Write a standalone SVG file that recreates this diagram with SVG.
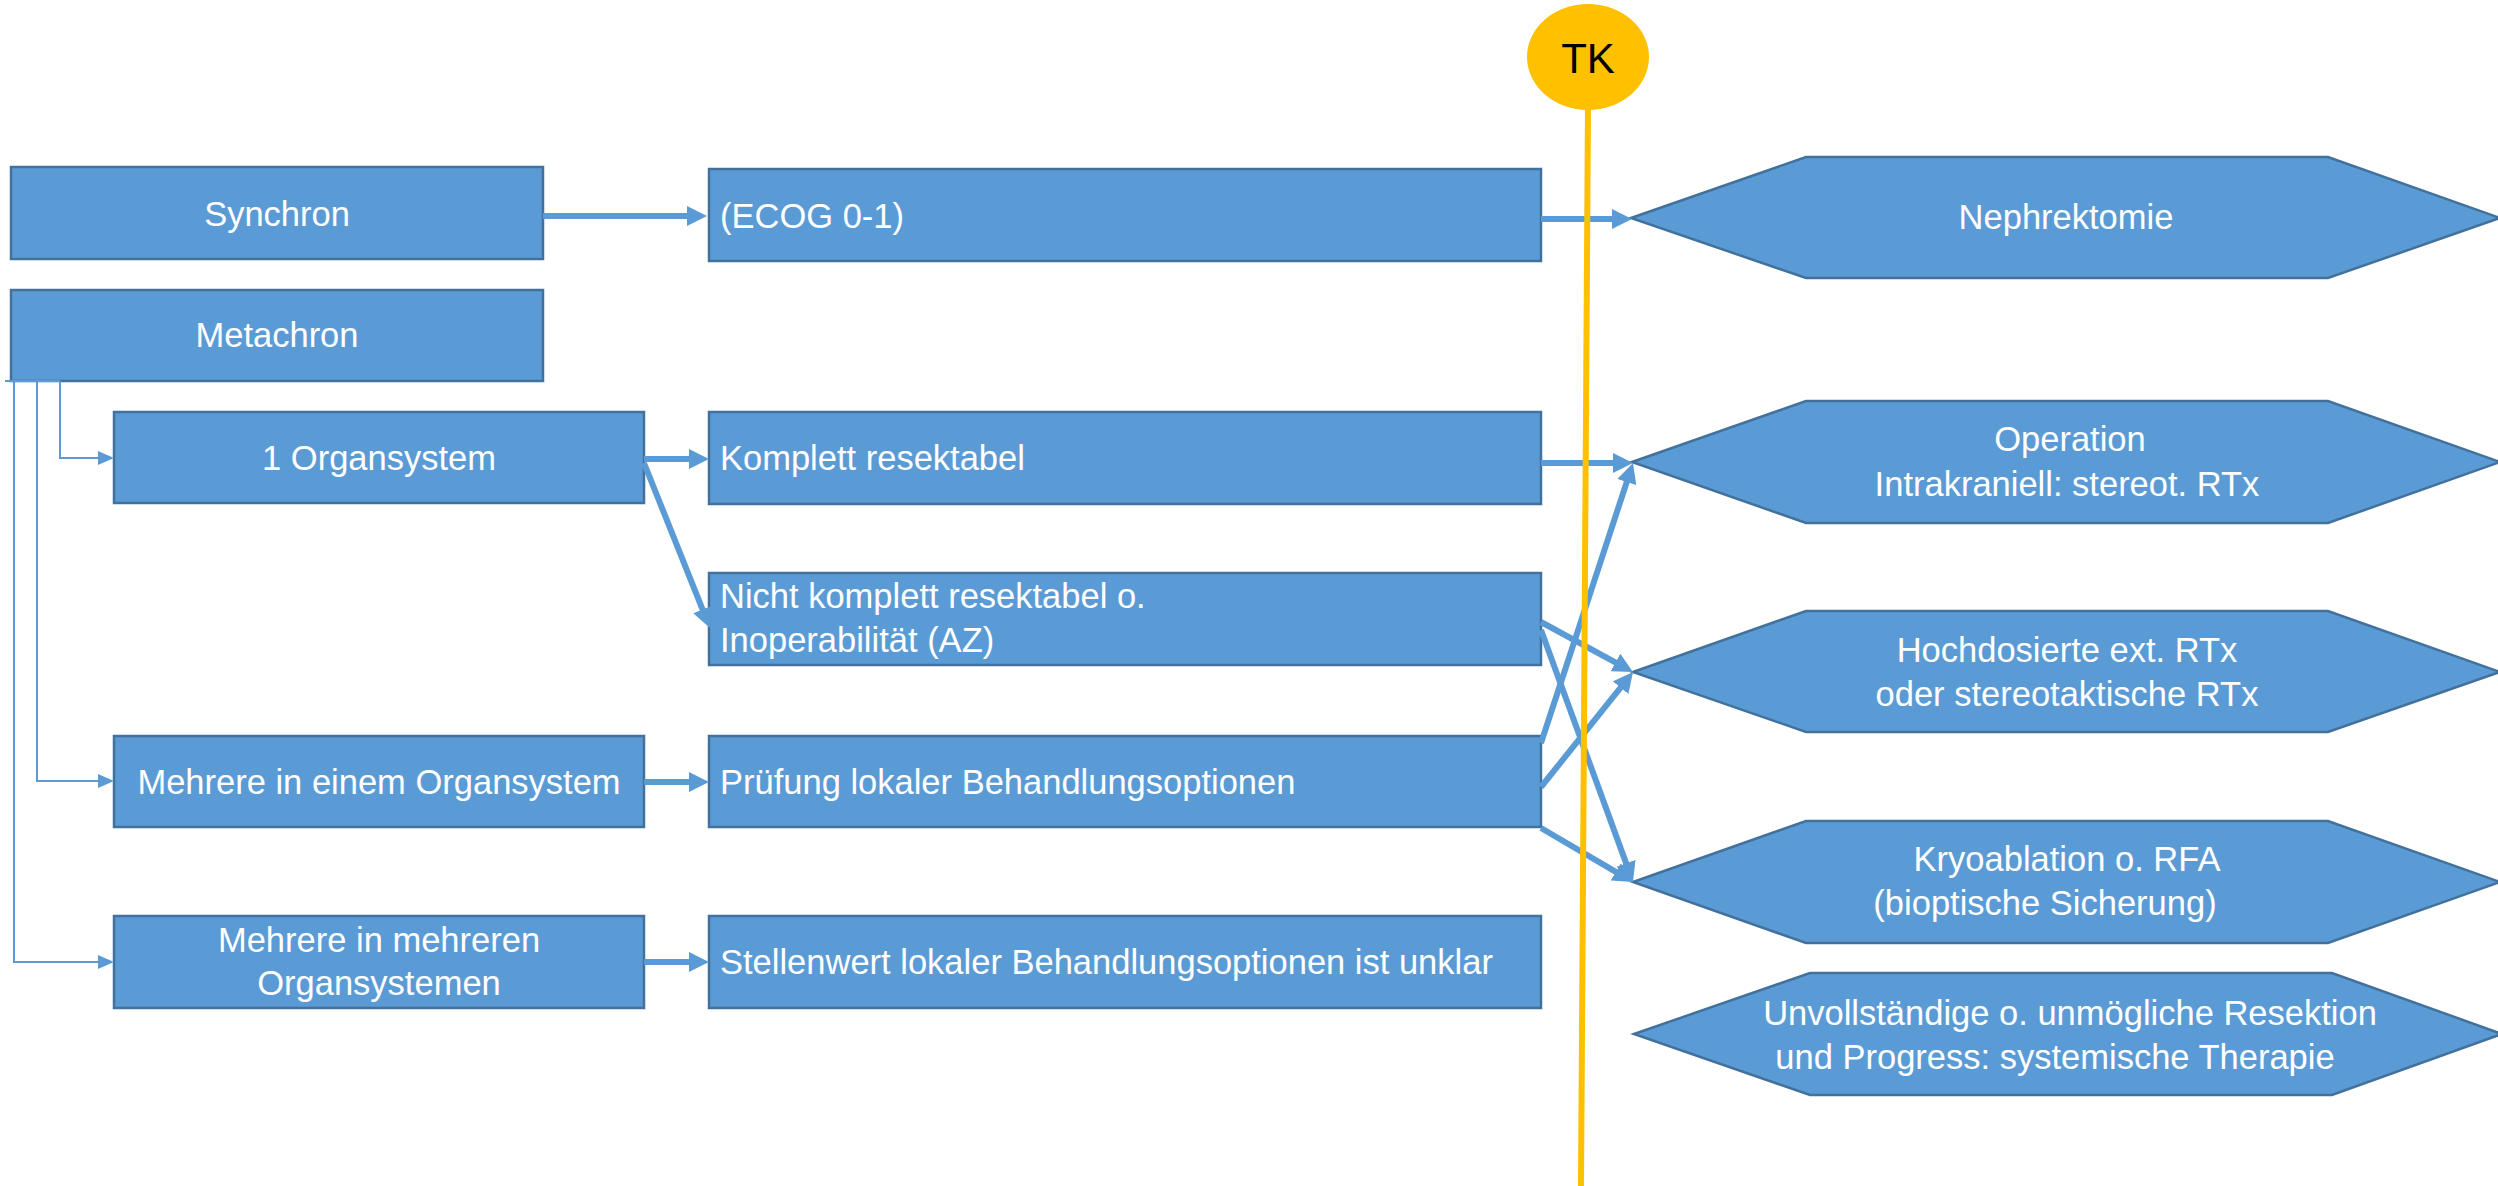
<svg xmlns="http://www.w3.org/2000/svg" width="2498" height="1186" viewBox="0 0 2498 1186">
<style>
.box{fill:#5B9BD5;stroke:#41719C;stroke-width:2.5}
.t{font-family:"Liberation Sans",Arial,sans-serif;font-size:34.5px;fill:#FFFFFF}
.c{text-anchor:middle}
.thick{fill:none;stroke:#5B9BD5;stroke-width:6;marker-end:url(#ah)}
.thin{fill:none;stroke:#5B9BD5;stroke-width:2}
.thinarrow{fill:none;stroke:#5B9BD5;stroke-width:2;marker-end:url(#ahs)}
</style>
<defs>
<marker id="ah" markerUnits="userSpaceOnUse" viewBox="0 0 20 20" markerWidth="20" markerHeight="20" refX="2" refY="10" orient="auto">
<path d="M0,0 L20,10 L0,20 z" fill="#5B9BD5"/>
</marker>
<marker id="ahs" markerUnits="userSpaceOnUse" viewBox="0 0 16 14" markerWidth="16" markerHeight="14" refX="2" refY="7" orient="auto">
<path d="M0,0 L16,7 L0,14 z" fill="#5B9BD5"/>
</marker>
</defs>
<rect width="2498" height="1186" fill="#FFFFFF"/>

<g id="synchron"><rect class="box" x="11" y="167" width="532" height="92"/><text class="t c" x="277" y="226">Synchron</text></g>
<g id="metachron"><rect class="box" x="11" y="290" width="532" height="91"/><text class="t c" x="277" y="347">Metachron</text></g>
<g id="organ1"><rect class="box" x="114" y="412" width="530" height="91"/><text class="t c" x="379" y="470">1 Organsystem</text></g>
<g id="mehrere-einem"><rect class="box" x="114" y="736" width="530" height="91"/><text class="t c" x="379" y="794">Mehrere in einem Organsystem</text></g>
<g id="mehrere-mehreren"><rect class="box" x="114" y="916" width="530" height="92"/><text class="t c" x="379" y="952">Mehrere in mehreren</text><text class="t c" x="379" y="995">Organsystemen</text></g>

<g id="ecog"><rect class="box" x="709" y="169" width="832" height="92"/><text class="t" x="720" y="228">(ECOG 0-1)</text></g>
<g id="komplett"><rect class="box" x="709" y="412" width="832" height="92"/><text class="t" x="720" y="470">Komplett resektabel</text></g>
<g id="nicht-komplett"><rect class="box" x="709" y="573" width="832" height="92"/><text class="t" x="720" y="608">Nicht komplett resektabel o.</text><text class="t" x="720" y="652">Inoperabilität (AZ)</text></g>
<g id="pruefung"><rect class="box" x="709" y="736" width="832" height="91"/><text class="t" x="720" y="794">Prüfung lokaler Behandlungsoptionen</text></g>
<g id="stellenwert"><rect class="box" x="709" y="916" width="832" height="92"/><text class="t" x="720" y="974">Stellenwert lokaler Behandlungsoptionen ist unklar</text></g>

<g id="nephrektomie"><polygon class="box" points="1631,218 1806,157 2328,157 2500,218 2328,278 1806,278"/><text class="t c" x="2066" y="229">Nephrektomie</text></g>
<g id="operation"><polygon class="box" points="1632,462 1806,401 2328,401 2500,462 2328,523 1806,523"/><text class="t c" x="2070" y="451">Operation</text><text class="t c" x="2067" y="496">Intrakraniell: stereot. RTx</text></g>
<g id="hochdosiert"><polygon class="box" points="1633,672 1806,611 2328,611 2500,672 2328,732 1806,732"/><text class="t c" x="2067" y="662">Hochdosierte ext. RTx</text><text class="t c" x="2067" y="706">oder stereotaktische RTx</text></g>
<g id="kryoablation"><polygon class="box" points="1633,882 1806,821 2328,821 2500,882 2328,943 1806,943"/><text class="t c" x="2067" y="871">Kryoablation o. RFA</text><text class="t c" x="2045" y="915">(bioptische Sicherung)</text></g>
<g id="unvollstaendig"><polygon class="box" points="1634,1034 1810,973 2332,973 2502,1034 2332,1095 1810,1095"/><text class="t c" x="2070" y="1025">Unvollständige o. unmögliche Resektion</text><text class="t c" x="2055" y="1069">und Progress: systemische Therapie</text></g>

<g id="connectors">
<path class="thin" d="M5,381 H60"/>
<path class="thinarrow" d="M60,381 V458 H100"/>
<path class="thinarrow" d="M37,381 V781 H100"/>
<path class="thinarrow" d="M14,381 V962 H100"/>
<path class="thick" d="M543,216 H689"/>
<path class="thick" d="M1541,219 H1614"/>
<path class="thick" d="M644,459 H691"/>
<path class="thick" d="M644,463 L703.3,611.3"/>
<path class="thick" d="M1541,463 H1615"/>
<path class="thick" d="M1541,622 L1617.2,663.4"/>
<path class="thick" d="M1541,630 L1626.8,865.1"/>
<path class="thick" d="M1541,743 L1627.4,480.1"/>
<path class="thick" d="M1541,787 L1621.8,686.1"/>
<path class="thick" d="M1541,828 L1617.5,872.9"/>
<path class="thick" d="M644,782 H691"/>
<path class="thick" d="M644,962 H691"/>
</g>

<g id="tk">
<line x1="1588" y1="105" x2="1581" y2="1186" stroke="#FFC000" stroke-width="6"/>
<ellipse cx="1588" cy="57" rx="61" ry="53" fill="#FFC000"/>
<text x="1588" y="73" text-anchor="middle" font-family="'Liberation Sans',Arial,sans-serif" font-size="42" fill="#000000">TK</text>
</g>
</svg>
